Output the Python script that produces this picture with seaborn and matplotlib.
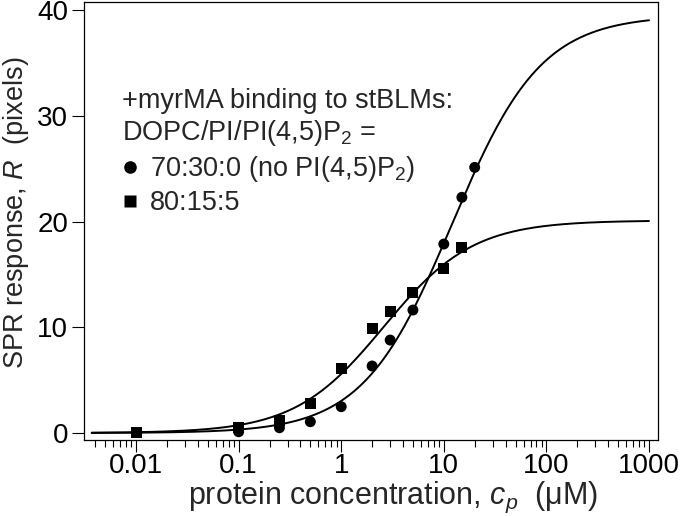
import numpy as np
import pandas as pd
import matplotlib
matplotlib.use("Agg")
import matplotlib.pyplot as plt
import matplotlib.ticker as mticker
import seaborn as sns

# ---- data ----
conc_circles = [0.1, 0.25, 0.5, 1, 2, 3, 5, 10, 15, 20]
resp_circles = [0.12, 0.5, 1.07, 2.49, 6.34, 8.79, 11.63, 17.87, 22.29, 25.12]
conc_squares = [0.01, 0.1, 0.25, 0.5, 1, 2, 3, 5, 10, 15]
resp_squares = [0.03, 0.5, 1.16, 2.81, 6.08, 9.86, 11.47, 13.27, 15.6, 17.56]

# Langmuir fit parameters
rmax_circles, kd_circles = 39.5, 12.0
rmax_squares, kd_squares = 20.1, 2.6

label_circles = "70:30:0 (no PI(4,5)P$_2$)"
label_squares = "80:15:5"
header = "+myrMA binding to stBLMs:\nDOPC/PI/PI(4,5)P$_2$ ="
x_ticks = [0.01, 0.1, 1, 10, 100, 1000]
x_ticklabels = ["0.01", "0.1", "1", "10", "100", "1000"]
y_ticks = [0, 10, 20, 30, 40]

sns.set_style("ticks")
plt.rcParams["font.family"] = ["Liberation Sans", "DejaVu Sans"]
plt.rcParams["mathtext.fontset"] = "custom"
plt.rcParams["mathtext.rm"] = "Liberation Sans"
plt.rcParams["mathtext.it"] = "Liberation Sans:italic"

fig = plt.figure(figsize=(6.8, 5.16), dpi=100)
ax = fig.add_axes([84 / 680, 1 - 440 / 516, (658 - 84) / 680, (440 - 2) / 516])

pts = pd.DataFrame({
    "c": conc_circles + conc_squares,
    "R": resp_circles + resp_squares,
    "set": [label_circles] * len(conc_circles) + [label_squares] * len(conc_squares),
})

cgrid = np.logspace(np.log10(0.0037), 3, 400)
curves = pd.DataFrame({
    "c": np.concatenate([cgrid, cgrid]),
    "R": np.concatenate([rmax_circles * cgrid / (kd_circles + cgrid),
                         rmax_squares * cgrid / (kd_squares + cgrid)]),
    "set": [label_circles] * len(cgrid) + [label_squares] * len(cgrid),
})

sns.lineplot(data=curves, x="c", y="R", units="set", estimator=None,
             color="black", lw=1.4, ax=ax, legend=False)
sns.scatterplot(data=pts, x="c", y="R", style="set",
                markers={label_circles: "o", label_squares: "s"},
                color="black", s=62, edgecolor="none", ax=ax, legend=True)

ax.set_xscale("log")
ax.set_xlim(0.00311, 1224)
ax.set_ylim(-0.66, 40.76)
ax.set_xticks(x_ticks)
ax.set_xticklabels(x_ticklabels)
ax.xaxis.set_minor_locator(mticker.LogLocator(base=10, subs=np.arange(2, 10)))
ax.xaxis.set_minor_formatter(mticker.NullFormatter())
ax.set_yticks(y_ticks)
ax.tick_params(axis="both", which="major", direction="out", length=8.5, width=0.8,
               labelsize=20, color="black", labelcolor="black")
ax.tick_params(axis="y", which="major", pad=3)
ax.tick_params(axis="x", which="major", pad=1)
ax.tick_params(axis="x", which="minor", direction="out", length=5, width=0.8, color="black")
for sp in ax.spines.values():
    sp.set_visible(True)
    sp.set_linewidth(0.9)
    sp.set_color("black")

ax.set_xlabel("protein concentration, $c_p$  (\u03bcM)", fontsize=22)
ax.xaxis.set_label_coords(0.538, -0.092)
ax.set_ylabel("SPR response, $R$  (pixels)", fontsize=19.5)
ax.yaxis.set_label_coords(-0.093, 0.518)

leg = ax.legend(title=header, loc="upper left", bbox_to_anchor=(0.066, 0.804),
                frameon=False, fontsize=19.5, title_fontsize=19.5,
                alignment="left", handletextpad=0.45, handlelength=0.6,
                labelspacing=0.22, borderpad=0, borderaxespad=0, markerscale=1.15)

fig.savefig("out.png", dpi=100)
